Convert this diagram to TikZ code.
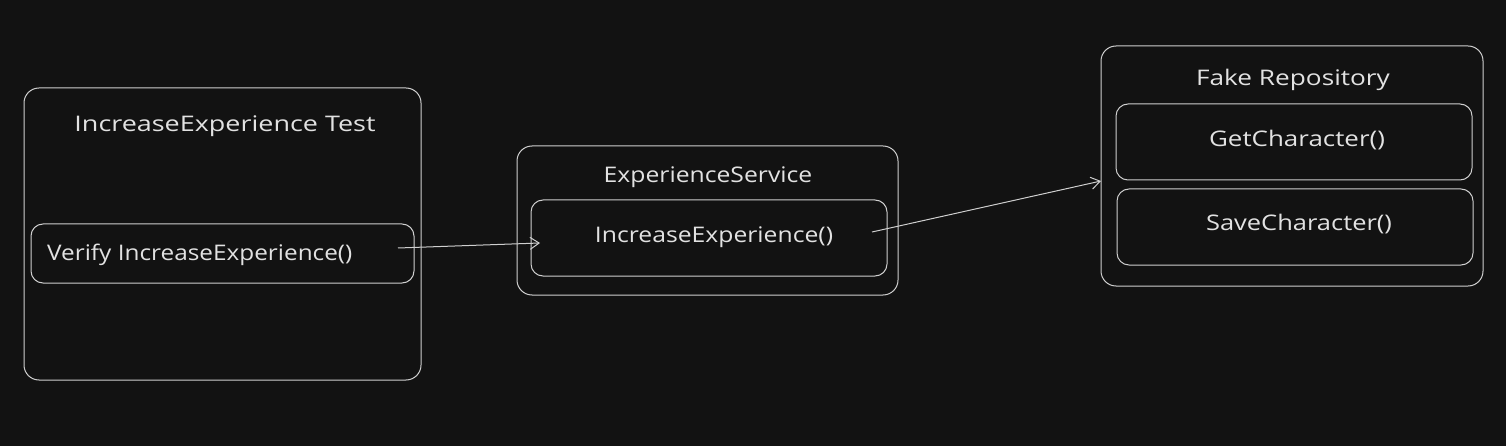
\documentclass[tikz,border=0pt]{standalone}
\usepackage{fontspec}
\setmainfont[FakeStretch=1.15]{Open Sans}
\usetikzlibrary{arrows.meta}
\definecolor{bg}{HTML}{121212}
\definecolor{ink}{HTML}{CFCFCF}
\definecolor{txt}{HTML}{E2E2E2}
\tikzset{
  outerbox/.style={draw=ink, line width=1pt, rounded corners=15pt},
  innerbox/.style={draw=ink, line width=1pt, rounded corners=12pt},
  label/.style={text=txt, font=\fontsize{21.5}{24}\selectfont, inner sep=0pt},
  conn/.style={draw=ink, line width=1pt, -{Straight Barb[length=9pt,width=12pt,line width=1pt]}}
}
\begin{document}
\begin{tikzpicture}[x=1pt,y=-1pt]
\useasboundingbox[fill=bg] (0,0) rectangle (1506,446);
% Test box
\node[outerbox, minimum width=397pt, minimum height=292pt] (test) at (222.5,234) {};
\node[label] (testT) at (225,126) {\scalebox{1.09}[1]{IncreaseExperience Test}};
\node[innerbox, minimum width=383pt, minimum height=59pt] (verify) at (222.5,253.5) {};
\node[label, anchor=west] (verifyT) at (47,255) {\scalebox{0.985}[1]{Verify IncreaseExperience()}};
% Service box
\node[outerbox, minimum width=381pt, minimum height=149pt] (svc) at (707.5,220.5) {};
\node[label] (svcT) at (708,177) {ExperienceService};
\node[innerbox, minimum width=356pt, minimum height=76pt] (inc) at (709,238) {};
\node[label] (incT) at (714,237) {IncreaseExperience()};
% Repository box
\node[outerbox, minimum width=382pt, minimum height=240pt] (repo) at (1292,166) {};
\node[label] (repoT) at (1293,80) {\scalebox{1.06}[1]{Fake Repository}};
\node[innerbox, minimum width=356pt, minimum height=76pt] (get) at (1294,142) {};
\node[label] (getT) at (1297,140) {\scalebox{1.05}[1]{GetCharacter()}};
\node[innerbox, minimum width=356pt, minimum height=76pt] (save) at (1295,227) {};
\node[label] (saveT) at (1299,224) {\scalebox{1.03}[1]{SaveCharacter()}};
% connectors
\coordinate (a1) at (398,248);
\coordinate (a2) at (540,243);
\coordinate (b1) at (872,232);
\coordinate (b2) at (1101,181);
\draw[conn] (a1) -- (a2);
\draw[conn] (b1) -- (b2);
\end{tikzpicture}
\end{document}
